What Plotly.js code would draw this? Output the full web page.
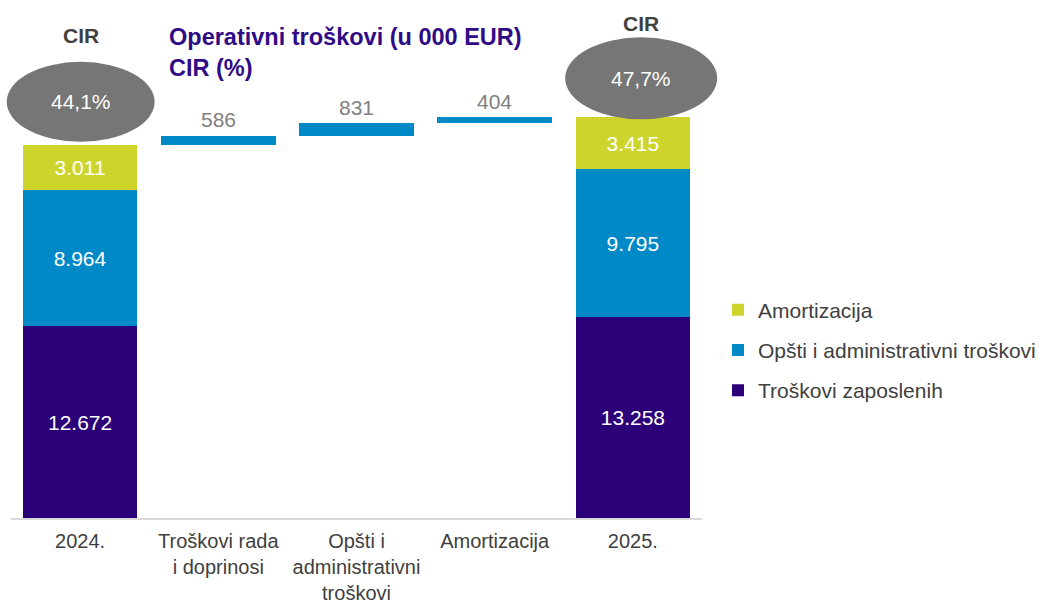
<!DOCTYPE html>
<html>
<head>
<meta charset="utf-8">
<script src="https://cdn.plot.ly/plotly-3.0.1.min.js"></script>
<style>html,body{margin:0;padding:0;background:#fff;}#chart{width:1043px;height:601px;}</style>
</head>
<body>
<div id="chart"></div>
<script>
// ---- data ----
const categories = ['2024.', 'Troškovi rada<br>i doprinosi', 'Opšti i<br>administrativni<br>troškovi', 'Amortizacija', '2025.'];
const troskoviZaposlenih = [12672, null, null, null, 13258];
const opstiAdministrativni = [8964, null, null, null, 9795];
const amortizacija = [3011, null, null, null, 3415];
const promjene = [null, 586, 831, 404, null];
const cirLabels = ['44,1%', '47,7%'];
const seriesNames = ['Troškovi zaposlenih', 'Opšti i administrativni troškovi', 'Amortizacija'];

// ---- helpers ----
function fmt(n) { return n == null ? '' : String(n).replace(/\B(?=(\d{3})+(?!\d))/g, '.'); }
const totals = categories.map((c, i) =>
  (troskoviZaposlenih[i] || 0) + (opstiAdministrativni[i] || 0) + (amortizacija[i] || 0));
// floating bases for the waterfall steps
const bases = [];
let run = totals[0];
promjene.forEach((d, i) => {
  if (d == null) { bases.push(null); }
  else { bases.push(run); run += d; }
});

const COLORS = { purple: '#2B0078', blue: '#0089C7', green: '#CDD42B' };
const FONT = 'Liberation Sans, Arial, sans-serif';
const plotH = 601 - 10 - 83;
const yMax = 33553;
const PX = yMax / plotH; // data units per pixel
const NCAT = categories.length;
function xPaper(v) { return (v + 0.5) / NCAT; }

function stackTrace(y, name, color, group, rank) {
  return {
    type: 'bar', x: categories, y: y, name: name, legendgroup: group, legendrank: rank,
    marker: { color: color, line: { width: 0 } },
    text: y.map(fmt), textposition: 'inside', insidetextanchor: 'middle',
    textfont: { color: '#FFFFFF', size: 21, family: FONT },
    hoverinfo: 'x+y+name'
  };
}

const traces = [
  stackTrace(troskoviZaposlenih, seriesNames[0], COLORS.purple, 'a', 3),
  stackTrace(opstiAdministrativni, seriesNames[1], COLORS.blue, 'b', 2),
  stackTrace(amortizacija, seriesNames[2], COLORS.green, 'c', 1),
  { type: 'bar', x: categories, y: bases, showlegend: false, hoverinfo: 'skip',
    marker: { color: 'rgba(0,0,0,0)', line: { width: 0 } } },
  { type: 'bar', x: categories, y: promjene, showlegend: false,
    marker: { color: COLORS.blue, line: { width: 0 } }, hoverinfo: 'x+y' }
];

const annotations = [];
const shapes = [];
promjene.forEach((d, i) => {
  if (d == null) return;
  annotations.push({ x: i, y: bases[i] + d + 16 * PX, xref: 'x', yref: 'y', text: fmt(d),
    showarrow: false, xanchor: 'center', yanchor: 'middle',
    font: { size: 21, color: '#7F7F7F', family: FONT } });
});
// CIR ellipses: [category index, x centre shift, rx, bottom offset px, height px, header offset px]
const cirSpec = [[0, 0.004, 0.535, 3, 80, 109], [4, 0.06, 0.55, -2, 82, 94]];
cirSpec.forEach((s, k) => {
  const [ci, dx, rx, off, h, hoff] = s;
  const t = totals[ci];
  const y0 = t + off * PX, y1 = y0 + h * PX;
  shapes.push({ type: 'circle', xref: 'paper', yref: 'y',
    x0: xPaper(ci + dx - rx), x1: xPaper(ci + dx + rx),
    y0: y0, y1: y1, fillcolor: '#767676', line: { width: 0 }, layer: 'above' });
  annotations.push({ x: xPaper(ci + dx), y: (y0 + y1) / 2, xref: 'paper', yref: 'y', text: cirLabels[k],
    showarrow: false, xanchor: 'center', yanchor: 'middle',
    font: { size: 21, color: '#FFFFFF', family: FONT } });
  annotations.push({ x: xPaper(ci + dx), y: t + hoff * PX, xref: 'paper', yref: 'y', text: '<b>CIR</b>',
    showarrow: false, xanchor: 'center', yanchor: 'middle',
    font: { size: 21, color: '#404040', family: FONT } });
});

const layout = {
  width: 1043, height: 601,
  margin: { l: 11, r: 341, t: 10, b: 83 },
  paper_bgcolor: '#FFFFFF', plot_bgcolor: '#FFFFFF',
  font: { family: FONT, color: '#404040' },
  barmode: 'stack', bargap: 0.17,
  title: {
    text: '<b>Operativni troškovi (u 000 EUR)<br>CIR (%)</b>',
    font: { size: 23.5, color: '#2F0B86', family: FONT },
    xref: 'container', yref: 'container', x: 169 / 1043, xanchor: 'left',
    y: 1 - 45 / 601, yanchor: 'top'
  },
  xaxis: {
    type: 'category', range: [-0.5, 4.5], showgrid: false, zeroline: false,
    showline: true, linecolor: '#D9D9D9', linewidth: 2, ticks: '',
    tickfont: { size: 20, color: '#404040', family: FONT },
    ticklabelstandoff: 4, automargin: false, fixedrange: true
  },
  yaxis: { visible: false, range: [0, yMax], fixedrange: true },
  showlegend: true,
  legend: {
    xref: 'container', yref: 'container', x: 718 / 1043, xanchor: 'left',
    y: 1 - 350 / 601, yanchor: 'middle',
    traceorder: 'grouped', tracegroupgap: 10,
    font: { size: 21, color: '#404040', family: FONT },
    bgcolor: 'rgba(0,0,0,0)'
  },
  annotations: annotations,
  shapes: shapes
};

Plotly.newPlot('chart', traces, layout, { displayModeBar: false, staticPlot: true });
</script>
</body>
</html>
